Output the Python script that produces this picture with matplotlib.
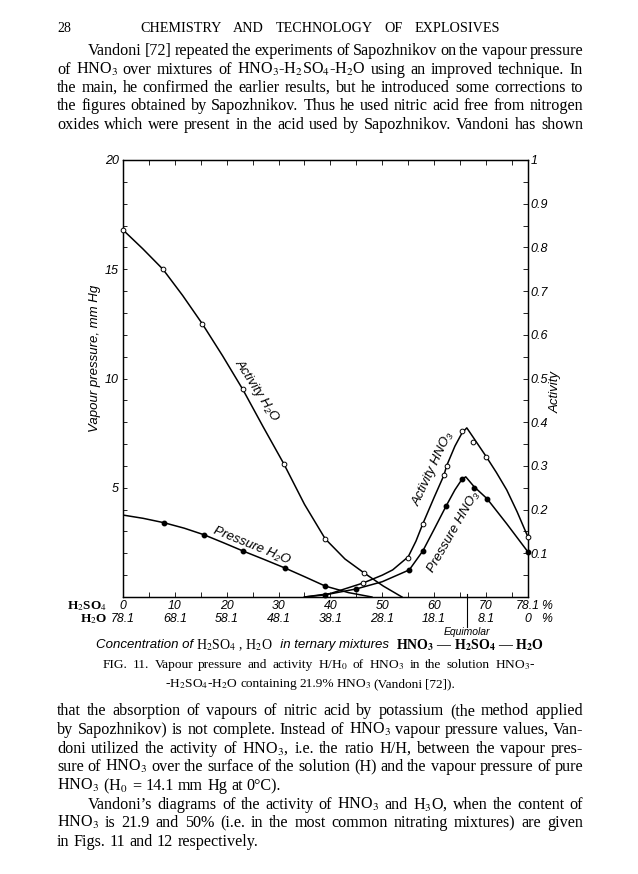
import matplotlib
matplotlib.use("Agg")
import numpy as np
import matplotlib.pyplot as plt
from matplotlib.transforms import blended_transform_factory as blend

W, H = 638, 874
plt.rcParams.update({
    "font.family": ["Liberation Serif", "DejaVu Serif"],
    "mathtext.fontset": "stix",
})
SANS = ["Liberation Sans Narrow", "Liberation Sans", "DejaVu Sans"]

# --- data -------------------------------------------------------------------
h2so4_ticks = [0, 10, 20, 30, 40, 50, 60, 70, 78.1]
h2so4_labels = ["0", "10", "20", "30", "40", "50", "60", "70", "78.1"]
h2o_labels = ["78.1", "68.1", "58.1", "48.1", "38.1", "28.1", "18.1", "8.1", "0"]
equimolar = 66.3

# activity of H2O (open circles, right scale)
act_h2o_x = [0, 7.7, 15.3, 23.1, 31.0, 39.0, 46.5]
act_h2o_y = [0.84, 0.75, 0.625, 0.475, 0.305, 0.133, 0.055]
act_h2o_cx = [0, 3.8, 7.7, 11.5, 15.3, 19.2, 23.1, 27.0, 31.0, 35.0, 39.0, 42.8, 46.5, 50.2, 53.8]
act_h2o_cy = [0.84, 0.797, 0.75, 0.69, 0.625, 0.552, 0.475, 0.39, 0.305, 0.212, 0.133, 0.087, 0.055, 0.025, 0.0]

# vapour pressure of H2O, mm Hg (dots, left scale)
p_h2o_x = [7.9, 15.6, 23.2, 31.2, 39.0]
p_h2o_y = [3.4, 2.85, 2.1, 1.33, 0.5]
p_h2o_cx = [0, 3.9, 7.9, 11.8, 15.6, 19.4, 23.2, 27.2, 31.2, 35.1, 39.0, 43.5, 48.0]
p_h2o_cy = [3.75, 3.6, 3.4, 3.15, 2.85, 2.48, 2.1, 1.72, 1.33, 0.92, 0.5, 0.2, 0.0]

# activity of HNO3 (open circles, right scale)
act_hno3_x = [46.3, 55.0, 57.8, 61.9, 62.4, 65.4, 67.5, 70.0, 78.1]
act_hno3_y = [0.032, 0.089, 0.167, 0.279, 0.30, 0.38, 0.355, 0.32, 0.137]
act_hno3_cx = [35, 40, 46.3, 50, 52, 55, 56.5, 57.8, 60, 61.9, 62.4, 64, 65.4, 66.3,
               67.5, 70, 72, 74, 76, 78.1]
act_hno3_cy = [0, 0.008, 0.032, 0.05, 0.062, 0.092, 0.128, 0.167, 0.228, 0.279, 0.30,
               0.345, 0.376, 0.387, 0.366, 0.322, 0.285, 0.245, 0.195, 0.137]

# vapour pressure of HNO3, mm Hg (dots, left scale)
p_hno3_x = [39.0, 45.0, 55.2, 57.8, 62.3, 65.4, 67.7, 70.2, 78.1]
p_hno3_y = [0.1, 0.37, 1.24, 2.1, 4.16, 5.4, 5.0, 4.5, 2.06]
p_hno3_cx = [35, 39, 45, 50, 55.2, 57.8, 60, 62.3, 64, 65.4, 66.1, 67.7, 70.2, 74, 78.1]
p_hno3_cy = [0, 0.1, 0.37, 0.7, 1.24, 2.1, 3.1, 4.16, 4.9, 5.4, 5.5, 5.05, 4.5, 3.35, 2.06]

para1 = [
    "Vandoni [72] repeated the experiments of Sapozhnikov on the vapour pressure",
    "of HNO$_3$ over mixtures of HNO$_3$-H$_2$SO$_4$-H$_2$O using an improved technique. In",
    "the main, he confirmed the earlier results, but he introduced some corrections to",
    "the figures obtained by Sapozhnikov. Thus he used nitric acid free from nitrogen",
    "oxides which were present in the acid used by Sapozhnikov. Vandoni has shown",
]
para2 = [
    "that the absorption of vapours of nitric acid by potassium (the method applied",
    "by Sapozhnikov) is not complete. Instead of HNO$_3$ vapour pressure values, Van-",
    "doni utilized the activity of HNO$_3$, i.e. the ratio H/H, between the vapour pres-",
    "sure of HNO$_3$ over the surface of the solution (H) and the vapour pressure of pure",
    "HNO$_3$ (H$_0$ = 14.1 mm Hg at 0°C).",
    "Vandoni’s diagrams of the activity of HNO$_3$ and H$_3$O, when the content of",
    "HNO$_3$ is 21.9 and 50% (i.e. in the most common nitrating mixtures) are given",
    "in Figs. 11 and 12 respectively.",
]
caption = [
    "FIG. 11. Vapour pressure and activity H/H$_0$ of HNO$_3$ in the solution HNO$_3$-",
    "-H$_2$SO$_4$-H$_2$O containing 21.9% HNO$_3$ (Vandoni [72]).",
]

fig = plt.figure(figsize=(W / 100, H / 100), dpi=100)
R = fig.canvas.get_renderer()


def fy(y):
    return 1 - y / H


def line(text, y, x0, x1, size, justify=True, **kw):
    words = text.split(" ")
    ts = [fig.text(0, fy(y), w, fontsize=size, va="baseline", **kw) for w in words]
    ws = [t.get_window_extent(R).width for t in ts]
    gap = size * 0.26 * 100 / 72
    if justify and len(ts) > 1:
        gap = (x1 - x0 - sum(ws)) / (len(ts) - 1)
    x = x0
    for t, w in zip(ts, ws):
        t.set_x(x / W)
        x += w + gap


# header and text
fig.text(57 / W, fy(32), "28", fontsize=10, va="baseline")
line("CHEMISTRY AND TECHNOLOGY OF EXPLOSIVES", 32, 140, 500, 10.2)
BS = 11.6
for i, s in enumerate(para1):
    line(s, 55 + i * 18.5, 88 if i == 0 else 57, 583, BS)
base2 = [715, 734, 753, 771, 790, 809, 827, 846]
for i, s in enumerate(para2):
    line(s, base2[i], 88 if i == 5 else 57, 583, BS, justify=i not in (4, 7))
line(caption[0], 668, 103, 535, 9.6)
line(caption[1], 687, 165, 455, 9.6)

# --- chart -------------------------------------------------------------------
L, Rr, T, B = 123, 528, 160, 597
ax = fig.add_axes([L / W, fy(B), (Rr - L) / W, (B - T) / H])
ax2 = ax.twinx()
ax.set_xlim(0, 78.1)
ax.set_ylim(0, 20)
ax2.set_ylim(0, 1)
for a in (ax, ax2):
    for s in a.spines.values():
        s.set_linewidth(0.9)

ax.set_xticks(np.arange(0, 78, 5))
ax.tick_params(axis="x", direction="in", top=True, length=3.5, width=0.6,
               labelbottom=False)
ax.set_yticks([5, 10, 15, 20])
ax.set_yticks(np.arange(0, 20, 1), minor=True)
ax.tick_params(axis="y", which="both", direction="in", length=3, width=0.6,
               labelsize=9, pad=3)
for t in ax.get_yticklabels():
    t.set_fontstyle("italic")
    t.set_fontfamily(SANS)
ax2.set_yticks([0.1, 0.2, 0.3, 0.4, 0.5, 0.6, 0.7, 0.8, 0.9, 1.0])
ax2.set_yticklabels(["0.1", "0.2", "0.3", "0.4", "0.5", "0.6", "0.7", "0.8", "0.9", "1"])
ax2.set_yticks(np.arange(0.05, 1, 0.1), minor=True)
ax2.tick_params(axis="y", which="both", direction="in", length=3.5, width=0.6,
                labelsize=9, pad=2)
for t in ax2.get_yticklabels():
    t.set_fontstyle("italic")
    t.set_fontfamily(SANS)

lk = dict(color="black", lw=1.1, zorder=3)
ax2.plot(act_h2o_cx, act_h2o_cy, **lk)
ax.plot(p_h2o_cx, p_h2o_cy, **lk)
ax2.plot(act_hno3_cx, act_hno3_cy, **lk)
ax.plot(p_hno3_cx, p_hno3_cy, **lk)
ok = dict(ls="none", marker="o", ms=3.4, mfc="white", mec="black", mew=0.7,
          zorder=4, clip_on=False)
dk = dict(ls="none", marker="o", ms=3.2, mfc="black", mec="black", zorder=4,
          clip_on=False)
ax2.plot(act_h2o_x, act_h2o_y, **ok)
ax2.plot(act_hno3_x, act_hno3_y, **ok)
ax.plot(p_h2o_x, p_h2o_y, **dk)
ax.plot(p_hno3_x, p_hno3_y, **dk)

ck = dict(fontsize=9.5, family=SANS, style="italic", ha="center", va="center",
          rotation_mode="anchor")
fig.text(257 / W, fy(390), "Activity H₂O", rotation=-57, **ck)
fig.text(252 / W, fy(546), "Pressure H₂O", rotation=-22, **ck)
fig.text(433 / W, fy(469), "Activity HNO₃", rotation=65, **ck)
fig.text(454 / W, fy(532), "Pressure HNO₃", rotation=60, **ck)
fig.text(95 / W, fy(358), "Vapour pressure, mm Hg", rotation=90, **ck)
fig.text(556 / W, fy(392), "Activity", rotation=90, **ck)

# concentration scale under the axis
tx = blend(ax.transData, fig.transFigure)
vk = dict(fontsize=8.8, family=SANS, style="italic", ha="center", va="center")
for x, a, b in zip(h2so4_ticks, h2so4_labels, h2o_labels):
    ax.text(x, fy(606), a, transform=tx, **vk)
    ax.text(x, fy(619), b, transform=tx, **vk)
fig.text(547 / W, fy(606), "%", **vk)
fig.text(547 / W, fy(619), "%", **vk)
fig.text(107 / W, fy(606), "H$_2$SO$_4$", fontsize=9.5, weight="bold", ha="right", va="center")
fig.text(107 / W, fy(619), "H$_2$O", fontsize=9.5, weight="bold", ha="right", va="center")
ax.plot([equimolar, equimolar], [fy(594), fy(627)], transform=tx, color="black",
        lw=0.8, clip_on=False)
ax.text(equimolar, fy(632), "Equimolar", transform=tx, fontsize=7.5, family=SANS,
        style="italic", ha="center", va="center")

pieces = [
    ("Concentration of ", dict(family=SANS, style="italic", fontsize=9.5)),
    ("H$_2$SO$_4$ , H$_2$O", dict(fontsize=10)),
    ("  in ternary mixtures  ", dict(family=SANS, style="italic", fontsize=9.5)),
    (r"HNO$_\mathbf{3}$ — H$_\mathbf{2}$SO$_\mathbf{4}$ — H$_\mathbf{2}$O",
     dict(fontsize=10, weight="bold")),
]
objs, tot = [], 0
for s, k in pieces:
    t = fig.text(0, fy(645), s, va="center", **k)
    w = t.get_window_extent(R).width
    objs.append((t, w))
    tot += w
x = 320 - tot / 2
for t, w in objs:
    t.set_x(x / W)
    x += w

fig.savefig("out.png", dpi=100)
